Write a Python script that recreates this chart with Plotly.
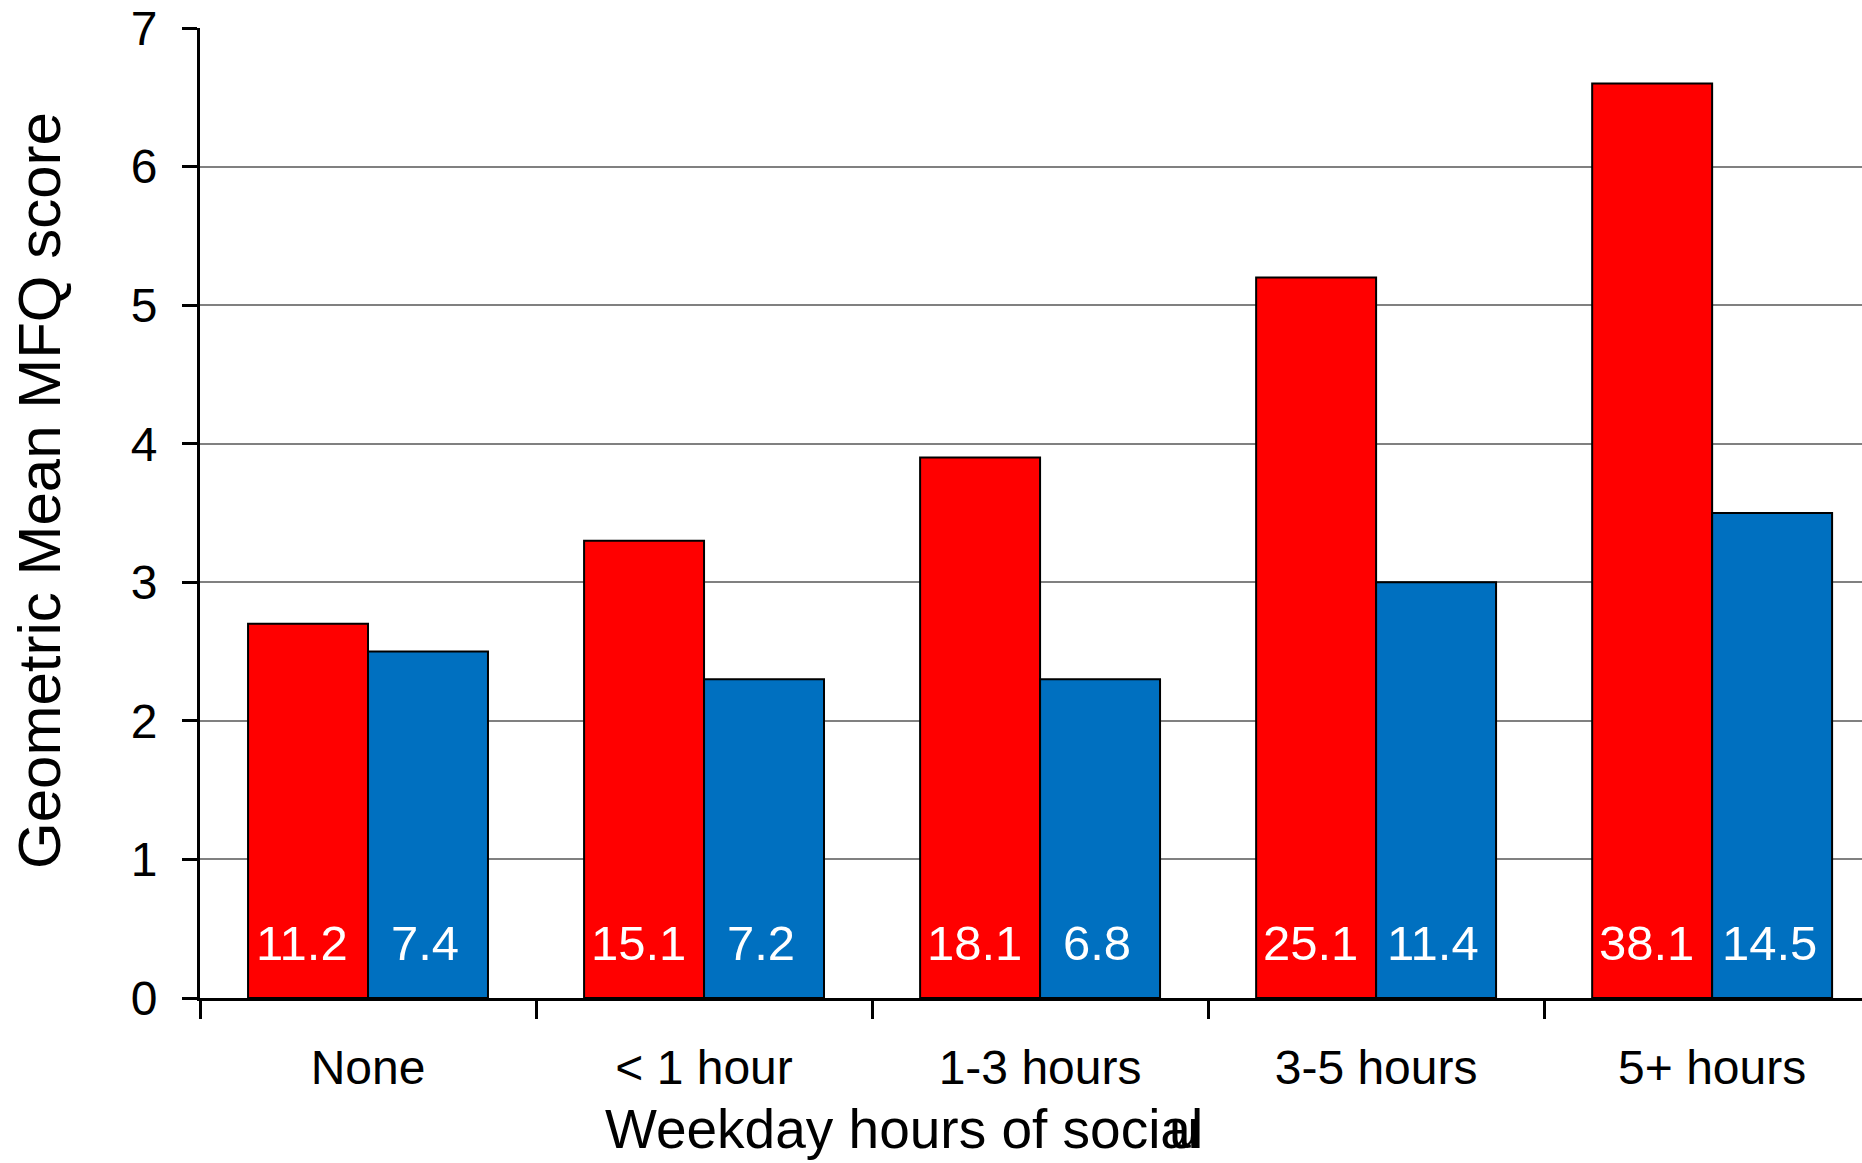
import plotly.graph_objects as go

categories = ["None", "< 1 hour", "1-3 hours", "3-5 hours", "5+ hours"]
red_values = [2.7, 3.3, 3.9, 5.2, 6.6]
blue_values = [2.5, 2.3, 2.3, 3.0, 3.5]
red_labels = ["11.2", "15.1", "18.1", "25.1", "38.1"]
blue_labels = ["7.4", "7.2", "6.8", "11.4", "14.5"]
y_ticks = [0, 1, 2, 3, 4, 5, 6, 7]

FONT = "Arial, 'Liberation Sans', sans-serif"
RED = "#FF0000"
BLUE = "#0070C0"

fig = go.Figure()
fig.add_trace(go.Bar(x=categories, y=red_values, name="red",
                     marker=dict(color=RED, line=dict(color="black", width=2))))
fig.add_trace(go.Bar(x=categories, y=blue_values, name="blue",
                     marker=dict(color=BLUE, line=dict(color="black", width=2))))

annotations = []
for cat, rl, bl in zip(categories, red_labels, blue_labels):
    annotations.append(dict(x=cat, y=0.4, xref="x", yref="y", text=rl, showarrow=False,
                            xshift=-66, font=dict(family=FONT, size=49, color="white")))
    annotations.append(dict(x=cat, y=0.4, xref="x", yref="y", text=bl, showarrow=False,
                            xshift=57, font=dict(family=FONT, size=49, color="white")))

W, H = 1862, 1163
ML, MR, MT, MB = 200, 0, 28, 165
pw, ph = W - ML - MR, H - MT - MB


def px(x):
    return (x - ML) / pw


def py(y):
    return (H - MB - y) / ph


annotations.append(dict(x=px(904), y=py(1129), xref="paper", yref="paper",
                        text="Weekday hours of social",
                        showarrow=False, xanchor="center", yanchor="middle",
                        font=dict(family=FONT, size=55, color="black")))
annotations.append(dict(x=px(40), y=py(491), xref="paper", yref="paper",
                        text="Geometric Mean MFQ score",
                        showarrow=False, textangle=-90, xanchor="center", yanchor="middle",
                        font=dict(family=FONT, size=60, color="black")))
# overlapping "u" glyph at the end of the x title
annotations.append(dict(x=px(1184), y=py(1129), xref="paper", yref="paper",
                        text="u", showarrow=False, xanchor="center", yanchor="middle",
                        font=dict(family=FONT, size=55, color="black")))

fig.update_layout(
    width=W, height=H,
    margin=dict(l=ML, r=MR, t=MT, b=MB, pad=0),
    paper_bgcolor="white", plot_bgcolor="white",
    barmode="group", bargap=0.286, bargroupgap=0,
    showlegend=False,
    font=dict(family=FONT, size=48, color="black"),
    annotations=annotations,
)
fig.update_xaxes(
    range=[-0.5, 4.446], showline=True, linecolor="black", linewidth=3,
    ticks="outside", tickson="boundaries", ticklen=18, tickwidth=3, tickcolor="black",
    showgrid=False, tickfont=dict(family=FONT, size=48, color="black"),
    ticklabelstandoff=25,
)
fig.update_yaxes(
    range=[0, 7], tickvals=y_ticks, showline=True, linecolor="black", linewidth=3,
    ticks="outside", ticklen=15, tickwidth=3, tickcolor="black",
    showgrid=True, gridcolor="#808080", gridwidth=2, zeroline=False,
    tickfont=dict(family=FONT, size=48, color="black"), ticklabelstandoff=15,
)

fig.write_html("out.html", config={"displayModeBar": False},
               post_script="document.body.style.margin='0';")
